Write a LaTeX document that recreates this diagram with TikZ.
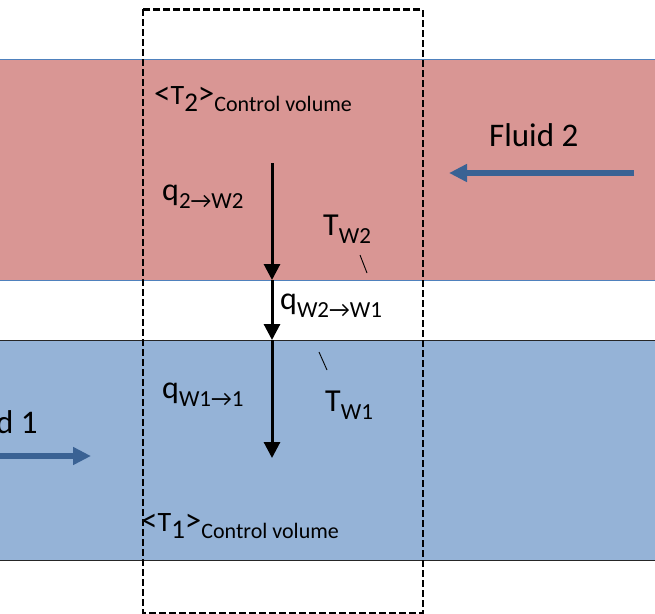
\documentclass[tikz,border=0pt]{standalone}
\usepackage{fontspec}
\setmainfont{Carlito}
\usetikzlibrary{arrows.meta}
\definecolor{redband}{RGB}{217,150,148}
\definecolor{blueband}{RGB}{149,179,215}
\definecolor{flowblue}{RGB}{58,98,148}
\definecolor{rededge}{RGB}{79,129,189}
\newcommand\subx[3]{\raisebox{-#1pt}{\fontsize{#2pt}{#2pt}\selectfont #3}}
\newcommand\bigch[1]{{\fontsize{33pt}{36pt}\selectfont #1}}
\begin{document}
\begin{tikzpicture}[x=1pt,y=-1pt,
  lbl/.style={anchor=base west,inner sep=0pt,font=\fontsize{32pt}{36pt}\selectfont},
  cvlbl/.style={anchor=base west,inner sep=0pt,font=\fontsize{28pt}{30pt}\selectfont},
  heat/.style={line width=3pt,-{Triangle[length=16pt,width=16pt]}},
  flow/.style={line width=6pt,flowblue,-{Triangle[length=18pt,width=17pt]}},
  tick/.style={line width=0.9pt}]
\useasboundingbox (0,0) rectangle (655,613);
\clip (0,0) rectangle (655,613);
% bands
\fill[redband] (0,59) rectangle (655,280);
\fill[blueband] (0,340) rectangle (655,560);
\draw[rededge,line width=0.9pt] (0,59) -- (655,59);
\draw[rededge,line width=0.9pt] (0,280) -- (655,280);
\draw[black!85,line width=0.9pt] (0,340) -- (655,340);
\draw[black!85,line width=0.9pt] (0,560) -- (655,560);
% control volume
\draw[dash pattern=on 7pt off 3pt,line width=2.2pt] (142.7,9.4) rectangle (422.7,613.2);
% heat arrows
\coordinate (a0) at (272,163);
\coordinate (a1) at (272,280);
\coordinate (a2) at (272,340);
\coordinate (a3) at (272,458);
\draw[heat] (a0) -- (a1);
\draw[heat] (a1) -- (a2);
\draw[heat] (a2) -- (a3);
% flow arrows
\coordinate (f2s) at (634,173);
\coordinate (f2e) at (449,173);
\coordinate (f1s) at (-5,456);
\coordinate (f1e) at (91,456);
\draw[flow] (f2s) -- (f2e);
\draw[flow] (f1s) -- (f1e);
% labels
\node[cvlbl] (t2) at (154,104) {\bigch{<}T\subx{7}{27}{2}\bigch{>}\subx{7}{22}{Control volume}};
\node[cvlbl] (t1) at (141,531) {\bigch{<}T\subx{7}{27}{1}\bigch{>}\subx{7}{22}{Control volume}};
\node[lbl] (q2w2) at (162,200) {q\subx{8}{23}{2→W2}};
\node[lbl] (tw2) at (323,235) {T\subx{8}{23}{W2}};
\node[lbl] (qw2w1) at (280,309) {q\subx{8}{23}{W2→W1}};
\node[lbl] (tw1) at (325,411) {T\subx{8}{23}{W1}};
\node[lbl] (qw11) at (162,398) {q\subx{8}{23}{W1→1}};
\node[lbl,font=\fontsize{33pt}{36pt}\selectfont] (fl2) at (489,146) {Fluid 2};
\node[lbl,anchor=base east,font=\fontsize{33pt}{36pt}\selectfont] (fl1) at (38,433) {Fluid 1};
% ticks
\coordinate (k1) at (360,255);
\coordinate (k2) at (367,273);
\coordinate (k3) at (319,352);
\coordinate (k4) at (327,370);
\draw[tick] (k1) -- (k2);
\draw[tick] (k3) -- (k4);
\end{tikzpicture}
\end{document}
